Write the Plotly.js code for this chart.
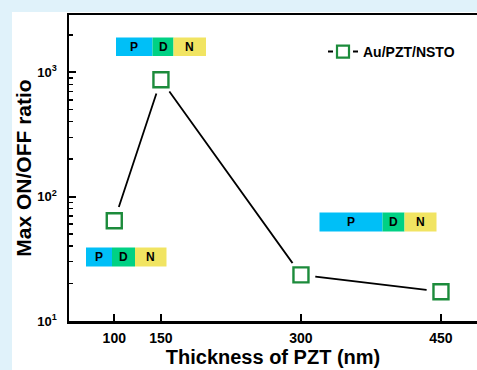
<!DOCTYPE html>
<html>
<head>
<meta charset="utf-8">
<script src="https://cdn.plot.ly/plotly-3.0.1.min.js"></script>
<style>
  html, body { margin: 0; padding: 0; background: #e0f2fa; }
  #chart { width: 477px; height: 370px; }
</style>
</head>
<body>
<div id="chart"></div>
<script>
// Film thickness (nm) and the maximum ON/OFF ratio measured for each device
const thicknessNm = [100, 150, 300, 450];
const onOffRatio = [64, 870, 23.5, 17.2];
const seriesName = 'Au/PZT/NSTO';

// Axis ticks
const xTickVals = [100, 150, 300, 450];
const yTickVals = [10, 100, 1000];
const yTickText = ['10<sup>1</sup>', '10<sup>2</sup>', '10<sup>3</sup>'];
const yMinorVals = [20, 30, 40, 50, 60, 70, 80, 90,
                    200, 300, 400, 500, 600, 700, 800, 900, 2000];

// P / D / N band diagrams: labels and fill colours
const bandLabels = ['P', 'D', 'N'];
const bandColors = ['#00bff7', '#00d184', '#f1e462'];

const W = 477, H = 370;
const M = { l: 69, r: 0, t: 15, b: 49 };
const plotW = W - M.l - M.r, plotH = H - M.t - M.b;
const px = v => (v - M.l) / plotW;        // pixel column -> paper x
const py = v => (H - M.b - v) / plotH;    // pixel row -> paper y

const FONT = 'Liberation Sans, Arial, Helvetica, sans-serif';
const GREEN = '#1c8b3b';

// Band boxes: vertical extent and the left edges of each P, D, N segment
const bandBoxes = [
  { top: 37.5, bottom: 56, edges: [116, 152.5, 173.5, 206] },
  { top: 247.5, bottom: 266.5, edges: [86, 112, 135, 166.5] },
  { top: 212.5, bottom: 231.5, edges: [319.5, 382.5, 404.5, 436.5] }
];

const shapes = [{
  // white card behind the whole chart
  type: 'rect', xref: 'paper', yref: 'paper', layer: 'below',
  x0: px(12), x1: 1.2, y0: -0.3, y1: py(12),
  fillcolor: '#ffffff', line: { width: 0 }
}];
const annotations = [];
bandBoxes.forEach(box => {
  for (let i = 0; i < 3; i++) {
    shapes.push({
      type: 'rect', xref: 'paper', yref: 'paper',
      x0: px(box.edges[i]), x1: px(box.edges[i + 1]),
      y0: py(box.bottom), y1: py(box.top),
      fillcolor: bandColors[i], line: { width: 0 }
    });
    annotations.push({
      xref: 'paper', yref: 'paper', showarrow: false,
      x: px((box.edges[i] + box.edges[i + 1]) / 2),
      y: py((box.top + box.bottom) / 2),
      xanchor: 'center', yanchor: 'middle',
      text: bandLabels[i],
      font: { family: FONT, size: 12, color: '#000', weight: 'bold' }
    });
  }
});

const traces = [
  { // connecting line
    x: thicknessNm, y: onOffRatio, mode: 'lines', showlegend: false,
    line: { color: '#000', width: 1.8 }, hoverinfo: 'skip'
  },
  { // white halo that opens a gap in the line around each point
    x: thicknessNm, y: onOffRatio, mode: 'markers', showlegend: false,
    marker: { symbol: 'circle', size: 29, color: '#ffffff', line: { width: 0 } },
    hoverinfo: 'skip'
  },
  { // data points
    x: thicknessNm, y: onOffRatio, mode: 'markers', showlegend: false,
    marker: { symbol: 'square', size: 15, color: '#ffffff',
              line: { color: GREEN, width: 2.4 } },
    name: seriesName
  },
  { // legend entry
    x: [null], y: [null], mode: 'lines+markers', name: seriesName,
    line: { color: '#000', width: 2, dash: '5px,20px,5px' },
    marker: { symbol: 'square', size: 12, color: '#ffffff',
              line: { color: GREEN, width: 2.2 } }
  }
];

const layout = {
  width: W, height: H, margin: M,
  paper_bgcolor: '#e0f2fa', plot_bgcolor: '#ffffff',
  font: { family: FONT, color: '#000' },
  showlegend: true,
  legend: {
    x: px(323), xanchor: 'left', y: py(52), yanchor: 'middle',
    bgcolor: 'rgba(0,0,0,0)', borderwidth: 0,
    font: { family: FONT, size: 14, color: '#000', weight: 'bold' }
  },
  xaxis: {
    range: [51.5, 488.6],
    tickmode: 'array', tickvals: xTickVals,
    ticks: 'inside', ticklen: 7, tickwidth: 2, tickcolor: '#000',
    ticklabelstandoff: 3,
    showline: true, linewidth: 2.5, linecolor: '#000', mirror: true,
    showgrid: false, zeroline: false,
    tickfont: { family: FONT, size: 14, color: '#000', weight: 'bold' },
    title: { text: 'Thickness of PZT (nm)', standoff: 5,
             font: { family: FONT, size: 20, color: '#000', weight: 'bold' } }
  },
  yaxis: {
    type: 'log', range: [1, 3.46],
    tickmode: 'array', tickvals: yTickVals, ticktext: yTickText,
    ticks: 'inside', ticklen: 7, tickwidth: 2, tickcolor: '#000',
    ticklabelstandoff: 7,
    minor: { tickmode: 'array', tickvals: yMinorVals, ticks: 'inside',
             ticklen: 4, tickwidth: 1.5, tickcolor: '#000', showgrid: false },
    showline: true, linewidth: 2.5, linecolor: '#000', mirror: false,
    showgrid: false, zeroline: false,
    tickfont: { family: FONT, size: 13, color: '#000', weight: 'bold' },
    title: { text: 'Max ON/OFF ratio', standoff: 0,
             font: { family: FONT, size: 21, color: '#000', weight: 'bold' } }
  },
  shapes: shapes,
  annotations: annotations
};

Plotly.newPlot('chart', traces, layout, { displayModeBar: false, staticPlot: true });
</script>
</body>
</html>
